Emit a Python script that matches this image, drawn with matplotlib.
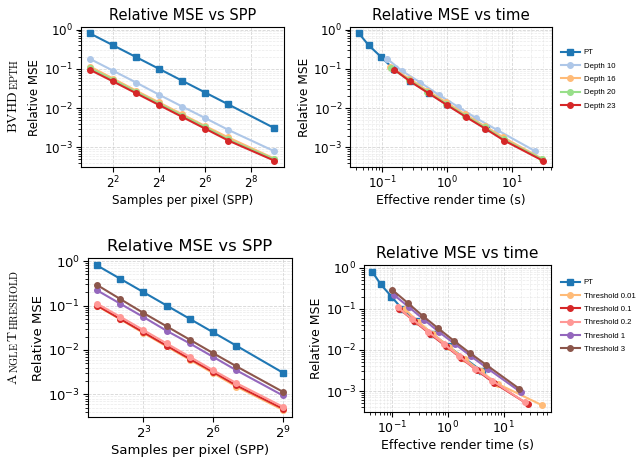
import numpy as np
import matplotlib
matplotlib.use("Agg")
import matplotlib.pyplot as plt

# samples per pixel (2^8 was not rendered)
spp = [2, 4, 8, 16, 32, 64, 128, 512]

# --- BVHDepth row ---
pt_mse = [0.8, 0.4, 0.2, 0.1, 0.05, 0.025, 0.0125, 0.0031]
pt_time = [0.044, 0.062, 0.097, 0.15, 0.27, 0.52, 1.0, 4.0]

depth_labels = ["Depth 10", "Depth 16", "Depth 20", "Depth 23"]
depth_colors = ["#aec7e8", "#ffbb78", "#98df8a", "#d62728"]
depth_mse = [
    [0.18, 0.09, 0.045, 0.022, 0.011, 0.0056, 0.0028, 0.0008],
    [0.115, 0.057, 0.028, 0.014, 0.007, 0.0035, 0.0018, 0.00052],
    [0.105, 0.053, 0.026, 0.013, 0.0065, 0.0033, 0.0016, 0.00050],
    [0.095, 0.048, 0.024, 0.012, 0.006, 0.003, 0.0015, 0.00046],
]
depth_time = [
    [0.12, 0.2, 0.39, 0.74, 1.46, 2.8, 5.9, 23.0],
    [0.13, 0.26, 0.5, 0.98, 1.9, 3.8, 7.4, 29.0],
    [0.137, 0.26, 0.5, 0.97, 1.9, 3.8, 7.5, 29.5],
    [0.155, 0.27, 0.52, 1.0, 1.95, 3.9, 7.6, 30.0],
]

# --- AngleThreshold row ---
thr_labels = ["Threshold 0.01", "Threshold 0.1", "Threshold 0.2", "Threshold 1", "Threshold 3"]
thr_colors = ["#ffbb78", "#d62728", "#ff9896", "#9467bd", "#8c564b"]
thr_mse = [
    [0.098, 0.049, 0.024, 0.012, 0.006, 0.003, 0.0015, 0.00045],
    [0.1, 0.05, 0.025, 0.0125, 0.0063, 0.0032, 0.0016, 0.00048],
    [0.11, 0.056, 0.028, 0.014, 0.007, 0.0035, 0.0018, 0.00053],
    [0.22, 0.11, 0.055, 0.027, 0.014, 0.007, 0.0035, 0.00095],
    [0.29, 0.14, 0.068, 0.034, 0.017, 0.0085, 0.0043, 0.00115],
]
thr_time = [
    [0.17, 0.29, 0.55, 1.05, 2.0, 3.9, 7.8, 49.0],
    [0.135, 0.25, 0.47, 0.91, 1.73, 3.3, 6.6, 27.0],
    [0.125, 0.23, 0.44, 0.85, 1.6, 3.1, 6.2, 24.0],
    [0.107, 0.2, 0.37, 0.7, 1.33, 2.6, 5.2, 20.0],
    [0.1, 0.19, 0.35, 0.66, 1.26, 2.45, 4.9, 18.8],
]

PT_COLOR = "#1f77b4"

fig = plt.figure(figsize=(6.36, 4.59), dpi=100)

def style(ax, fs):
    ax.set_yscale("log")
    ax.grid(True, which="major", ls="--", lw=0.6, color="#cccccc", alpha=0.8)
    ax.grid(True, which="minor", ls="--", lw=0.5, color="#dddddd", alpha=0.6)
    ax.tick_params(labelsize=fs, pad=2)

def spp_panel(ax, series, labels, colors, xticks, fs_title, fs, fs_tick):
    ax.plot(spp, pt_mse, "-s", color=PT_COLOR, ms=4, lw=1.5, label="PT")
    for y, lab, c in zip(series, labels, colors):
        ax.plot(spp, y, "-o", color=c, ms=4, lw=1.5, label=lab)
    ax.set_xscale("log", base=2)
    style(ax, fs_tick)
    ax.set_xticks(xticks)
    ax.set_xticklabels([r"$2^{%d}$" % int(np.log2(t)) for t in xticks])
    ax.set_title("Relative MSE vs SPP", fontsize=fs_title, pad=5)
    ax.set_xlabel("Samples per pixel (SPP)", fontsize=fs, labelpad=2)
    ax.set_ylabel("Relative MSE", fontsize=fs, labelpad=2)

def time_panel(ax, times, series, labels, colors, fs_title, fs, fs_tick, leg_y):
    ax.plot(pt_time, pt_mse, "-s", color=PT_COLOR, ms=4, lw=1.5, label="PT")
    for t, y, lab, c in zip(times, series, labels, colors):
        ax.plot(t, y, "-o", color=c, ms=4, lw=1.5, label=lab)
    ax.set_xscale("log")
    style(ax, fs_tick)
    ax.set_title("Relative MSE vs time", fontsize=fs_title, pad=5)
    ax.set_xlabel("Effective render time (s)", fontsize=fs, labelpad=2)
    ax.set_ylabel("Relative MSE", fontsize=fs, labelpad=2)
    ax.legend(loc="upper left", bbox_to_anchor=(561 / 636, leg_y),
              bbox_transform=fig.transFigure,
              prop={"family": "Liberation Sans", "size": 5.6}, frameon=False,
              handlelength=2.4, handletextpad=0.5, labelspacing=0.75,
              borderpad=0, borderaxespad=0)

ax1 = fig.add_axes([0.127, 0.636, 0.319, 0.305])
spp_panel(ax1, depth_mse, depth_labels, depth_colors, [4, 16, 64, 256], 10.5, 8.6, 8.6)
ax2 = fig.add_axes([0.550, 0.636, 0.318, 0.305])
time_panel(ax2, depth_time, depth_mse, depth_labels, depth_colors, 10.8, 8.8, 8.6,
           1 - 49 / 459)

ax3 = fig.add_axes([0.138, 0.0915, 0.321, 0.346])
spp_panel(ax3, thr_mse, thr_labels, thr_colors, [8, 64, 512], 11.8, 9.5, 9.5)
ax4 = fig.add_axes([0.572, 0.1024, 0.294, 0.320])
time_panel(ax4, thr_time, thr_mse, thr_labels, thr_colors, 11.2, 9.0, 9.0,
           1 - 279 / 459)

# row labels in small caps style
def row_label(y0, parts):
    fig.canvas.draw()
    r = fig.canvas.get_renderer()
    y = y0
    for s, size in parts:
        t = fig.text(0.031, y, r"$\mathrm{%s}$" % s, rotation=90, ha="right", va="bottom",
                     fontsize=size, math_fontfamily="cm")
        bb = t.get_window_extent(r)
        y = bb.y1 / fig.bbox.height

row_label(1 - 133 / 459, [("BVHD", 10), ("EPTH", 7.5)])
row_label(1 - 385 / 459, [("A", 10), ("NGLE", 7.5), ("T", 10), ("HRESHOLD", 7.5)])

fig.savefig("out.png", dpi=100)
